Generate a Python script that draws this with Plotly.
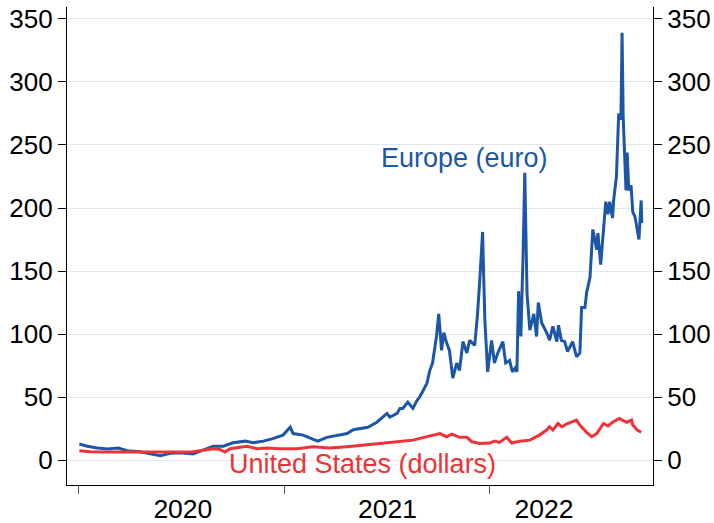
import plotly.graph_objects as go

# ---- Data ----
eu_dates = [
    "2020-01-02", "2020-01-16", "2020-02-03", "2020-02-21", "2020-03-11", "2020-03-27",
    "2020-04-19", "2020-05-07", "2020-05-25", "2020-06-12", "2020-06-29", "2020-07-22",
    "2020-08-09", "2020-08-27", "2020-09-14", "2020-10-01", "2020-10-23", "2020-11-06",
    "2020-11-24", "2020-12-11", "2020-12-29", "2021-01-11", "2021-01-16", "2021-02-03",
    "2021-02-21", "2021-03-01", "2021-03-17", "2021-04-04", "2021-04-22", "2021-05-03",
    "2021-05-19", "2021-05-29", "2021-06-14", "2021-07-02", "2021-07-07", "2021-07-20",
    "2021-07-25", "2021-07-30", "2021-08-08", "2021-08-17", "2021-08-24", "2021-08-29",
    "2021-09-03", "2021-09-11", "2021-09-16", "2021-09-21", "2021-09-28", "2021-10-02",
    "2021-10-07", "2021-10-11", "2021-10-16", "2021-10-21", "2021-10-27", "2021-11-03",
    "2021-11-08", "2021-11-14", "2021-11-21", "2021-11-26", "2021-12-05", "2021-12-10",
    "2021-12-14", "2021-12-19", "2021-12-21", "2021-12-23", "2021-12-28", "2022-01-04",
    "2022-01-09", "2022-01-15", "2022-01-24", "2022-01-29", "2022-02-05", "2022-02-10",
    "2022-02-15", "2022-02-18", "2022-02-21", "2022-02-25", "2022-03-01", "2022-03-04",
    "2022-03-08", "2022-03-13", "2022-03-20", "2022-03-25", "2022-03-28", "2022-04-03",
    "2022-04-12", "2022-04-17", "2022-04-23", "2022-04-30", "2022-05-03", "2022-05-08",
    "2022-05-14", "2022-05-19", "2022-05-28", "2022-06-04", "2022-06-10", "2022-06-13",
    "2022-06-19", "2022-06-22", "2022-06-28", "2022-07-03", "2022-07-10", "2022-07-12",
    "2022-07-17", "2022-07-22", "2022-07-26", "2022-07-30", "2022-08-02", "2022-08-07",
    "2022-08-09", "2022-08-14", "2022-08-18", "2022-08-22", "2022-08-24", "2022-08-26",
    "2022-08-31", "2022-09-02", "2022-09-05", "2022-09-09", "2022-09-12", "2022-09-16",
    "2022-09-19", "2022-09-23", "2022-09-27", "2022-09-28",
]
eu_values = [
    12.7, 11.0, 9.5, 8.7, 9.5, 7.4,
    6.6, 5.3, 3.4, 5.3, 5.8, 4.8,
    7.9, 11.0, 11.0, 13.7, 15.0, 13.7,
    15.0, 17.0, 19.8, 26.0, 21.0, 19.8,
    16.4, 15.0, 18.0, 19.8, 21.0, 24.0,
    25.0, 26.0, 30.0, 37.0, 34.0, 37.0,
    41.0, 41.0, 46.0, 41.0, 47.0, 50.0,
    54.0, 61.0, 71.0, 77.0, 98.0, 116.0,
    87.0, 101.0, 93.0, 87.0, 65.0, 77.0,
    71.0, 94.0, 85.0, 95.0, 91.0, 116.0,
    143.0, 181.0, 145.0, 111.0, 70.0, 95.0,
    77.0, 85.0, 94.0, 77.0, 79.0, 70.0,
    73.0, 70.0, 134.0, 98.0, 164.0, 228.0,
    132.0, 103.0, 116.0, 98.0, 125.0, 109.0,
    101.0, 95.0, 106.0, 94.0, 107.0, 95.0,
    94.0, 86.0, 94.0, 82.0, 85.0, 121.0,
    121.0, 133.0, 145.0, 183.0, 167.0, 180.0,
    155.0, 185.0, 205.0, 195.0, 205.0, 192.0,
    206.0, 225.0, 275.0, 270.0, 339.0, 272.0,
    214.0, 244.0, 214.0, 218.0, 197.0, 193.0,
    185.0, 175.0, 206.0, 188.0,
]

us_dates = [
    "2020-01-02", "2020-01-21", "2020-02-26", "2020-04-01", "2020-05-07", "2020-06-11",
    "2020-07-17", "2020-08-03", "2020-08-27", "2020-09-08", "2020-09-17", "2020-09-26",
    "2020-10-26", "2020-11-13", "2020-12-01", "2020-12-24", "2021-01-23", "2021-02-20",
    "2021-03-22", "2021-04-22", "2021-05-20", "2021-06-19", "2021-07-20", "2021-08-17",
    "2021-09-11", "2021-09-21", "2021-10-04", "2021-10-16", "2021-10-25", "2021-11-08",
    "2021-11-21", "2021-11-30", "2021-12-14", "2022-01-01", "2022-01-09", "2022-01-18",
    "2022-01-31", "2022-02-09", "2022-02-23", "2022-03-13", "2022-03-30", "2022-04-12",
    "2022-04-17", "2022-04-23", "2022-05-02", "2022-05-09", "2022-05-19", "2022-06-04",
    "2022-06-10", "2022-06-22", "2022-07-01", "2022-07-10", "2022-07-22", "2022-07-30",
    "2022-08-07", "2022-08-19", "2022-09-01", "2022-09-10", "2022-09-12", "2022-09-20",
    "2022-09-27",
]
us_values = [
    7.4, 6.5, 6.3, 6.3, 6.1, 5.8,
    6.3, 7.4, 9.0, 8.5, 6.3, 9.0,
    11.0, 9.0, 9.5, 9.0, 9.0, 10.6,
    9.5, 10.6, 12.0, 13.2, 14.5, 15.8,
    18.5, 19.8, 21.0, 18.5, 20.6, 18.0,
    18.0, 14.5, 13.2, 13.5, 15.0, 14.0,
    18.0, 13.5, 15.0, 15.8, 19.8, 23.8,
    26.4, 23.8, 29.0, 26.4, 29.0, 31.7,
    27.8, 22.0, 18.5, 21.0, 29.0, 27.0,
    30.0, 33.0, 30.0, 31.7, 27.8, 23.8,
    22.0,
]

year_boundaries = ["2020-01-01", "2021-01-01", "2022-01-01"]
year_label_pos = ["2020-07-04", "2021-07-03", "2022-04-07"]
year_labels = ["2020", "2021", "2022"]
y_ticks = [0, 50, 100, 150, 200, 250, 300, 350]

BLUE = "#1c57a7"
RED = "#ee3237"
FONT = "Liberation Sans, Arial, Helvetica, sans-serif"

fig = go.Figure()
fig.add_trace(go.Scatter(x=eu_dates, y=eu_values, mode="lines",
                         line=dict(color=BLUE, width=3), showlegend=False))
fig.add_trace(go.Scatter(x=us_dates, y=us_values, mode="lines",
                         line=dict(color=RED, width=3), showlegend=False))
# invisible trace to activate the right axis
fig.add_trace(go.Scatter(x=eu_dates[:1], y=eu_values[:1], yaxis="y2", mode="lines",
                         line=dict(width=0), hoverinfo="skip", showlegend=False))

yax = dict(
    range=[-19.8, 359.5], tickmode="array", tickvals=y_ticks,
    ticks="outside", ticklen=8, tickwidth=1, tickcolor="black",
    showline=True, linecolor="black", linewidth=1.2,
    zeroline=False, automargin=False, ticklabeloverflow="allow",
    tickfont=dict(size=26, color="black", family=FONT),
)
fig.update_layout(
    template="none",
    width=714, height=523,
    margin=dict(l=67, r=61, t=7, b=38, pad=0),
    plot_bgcolor="white", paper_bgcolor="white",
    font=dict(family=FONT, color="black"),
    xaxis=dict(
        type="date", range=["2019-12-11", "2022-10-18"],
        tickmode="array", tickvals=year_label_pos, ticktext=year_labels,
        ticks="", showgrid=False, zeroline=False, automargin=False,
        showline=True, linecolor="black", linewidth=1.2,
        tickfont=dict(size=26.5, color="black", family=FONT),
        ticklabelstandoff=0, ticklabeloverflow="allow",
        minor=dict(tickmode="array", tickvals=year_boundaries, ticks="outside",
                   ticklen=8, tickwidth=1, tickcolor="#555555", showgrid=False),
    ),
    yaxis=dict(**yax, showgrid=True, gridcolor="#dfeaed", gridwidth=1, side="left"),
    yaxis2=dict(**yax, showgrid=False, overlaying="y", side="right", matches="y"),
    annotations=[
        dict(x="2021-11-17", y=240, xref="x", yref="y", text="Europe (euro)",
             showarrow=False, font=dict(size=27, color=BLUE, family=FONT),
             xanchor="center", yanchor="middle"),
        dict(x="2021-05-20", y=-3.2, xref="x", yref="y", text="United States (dollars)",
             showarrow=False, font=dict(size=27, color=RED, family=FONT),
             xanchor="center", yanchor="middle"),
    ],
)

# remove the browser's default 8px page margin so the 714x523 figure fills the window
fig.write_html(
    "out.html",
    config={"displayModeBar": False},
    post_script="document.body.style.margin='0';document.body.style.overflow='hidden';",
)
